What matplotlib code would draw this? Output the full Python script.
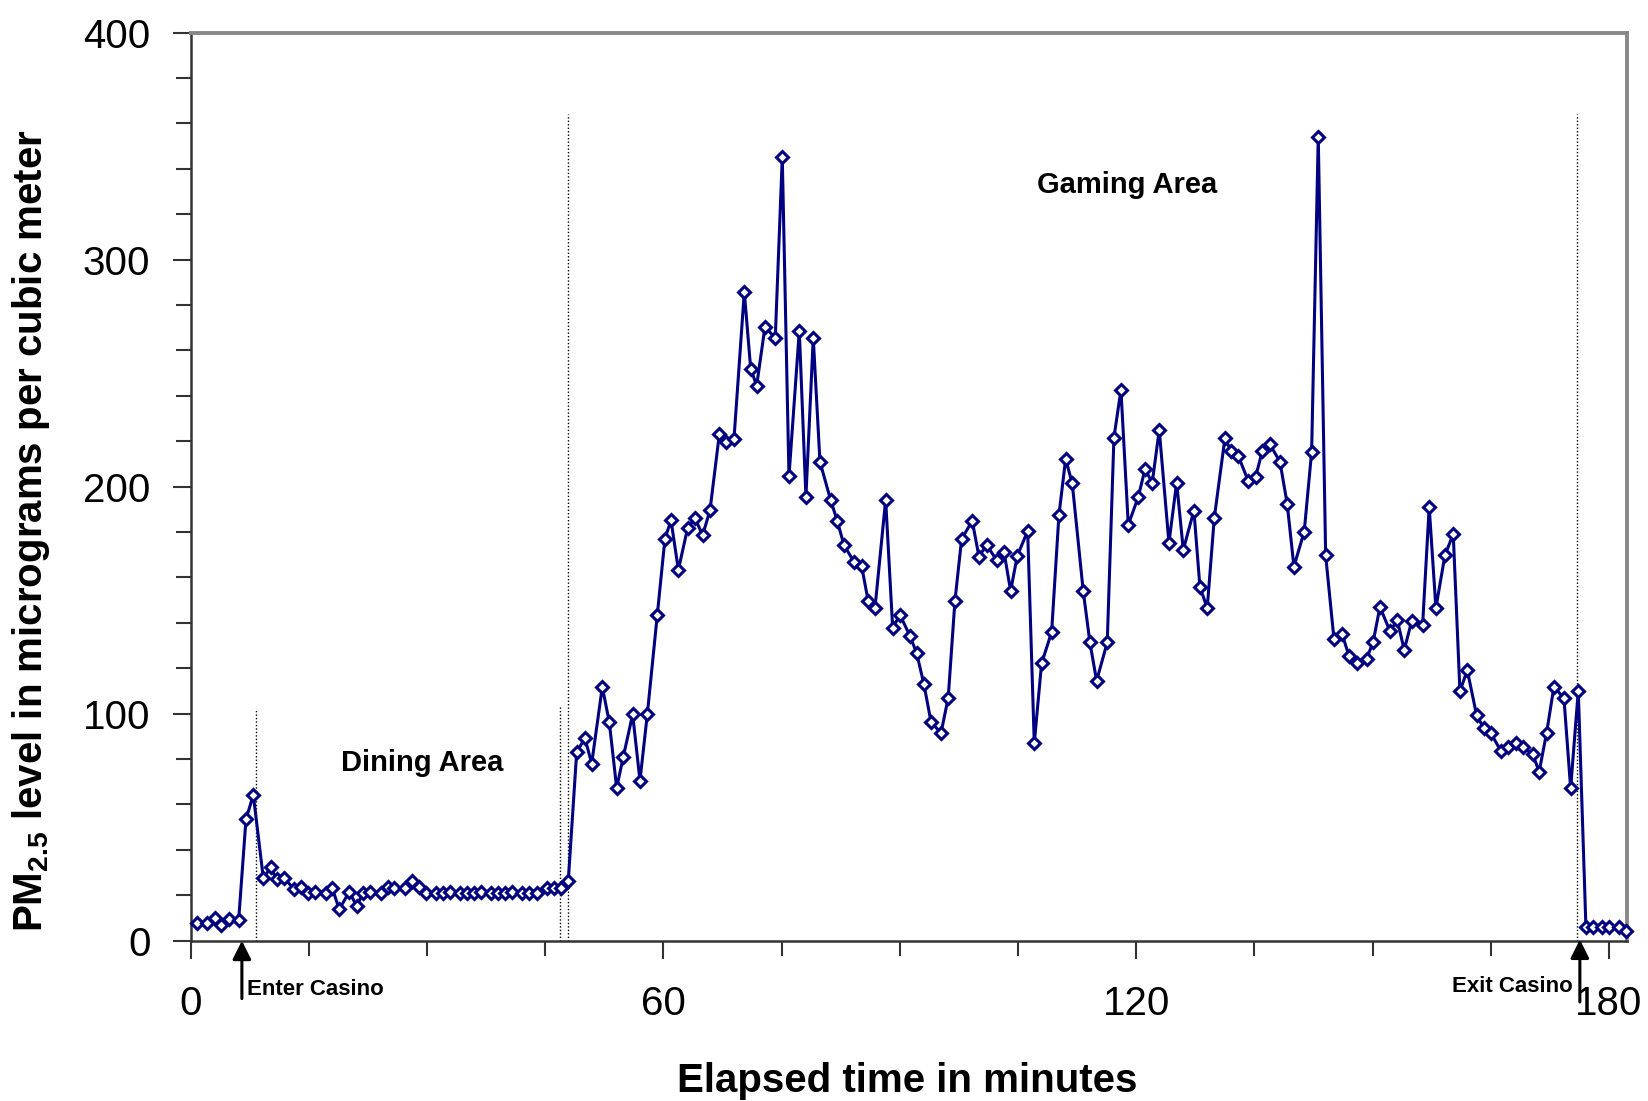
import matplotlib
matplotlib.use("Agg")
import matplotlib.pyplot as plt
import numpy as np

plt.rcParams['font.family'] = ['Liberation Sans', 'DejaVu Sans']
plt.rcParams['mathtext.fontset'] = 'custom'
plt.rcParams['mathtext.rm'] = 'Liberation Sans:bold'
plt.rcParams['mathtext.bf'] = 'Liberation Sans:bold'

# sample times (minutes) and PM2.5 readings (ug/m3)
minutes = [0.84, 2.11, 3.08, 3.89, 4.82, 6.09, 7.02, 7.95, 9.22, 10.15,
           10.91, 11.88, 13.11, 13.95, 14.89, 15.73, 17.13, 17.97, 18.86, 20.13,
           21.06, 21.91, 22.75, 24.11, 25.00, 25.84, 27.20, 28.08, 28.93, 29.86,
           31.13, 32.06, 32.91, 34.18, 35.02, 35.95, 36.84, 38.07, 39.04, 39.89,
           40.82, 42.09, 42.93, 43.90, 45.17, 46.10, 46.99, 47.92,
           48.99, 50.04, 50.89, 52.24, 53.13, 54.06, 54.91, 56.09, 57.02, 57.95,
           59.22, 60.19, 60.96, 61.89, 63.07, 64.00, 64.97, 65.91, 67.09, 67.94,
           68.95, 70.26, 71.07, 71.83, 72.88, 74.19, 75.08, 75.93, 77.24, 78.08,
           79.01, 79.86, 81.21, 82.06, 82.91, 84.18, 85.15, 85.99, 86.84, 88.20,
           89.09, 90.01, 91.28, 92.13, 93.06, 93.95, 95.22, 96.14, 96.99, 97.84,
           99.19, 100.04, 101.01, 102.28, 103.21, 104.06, 104.90, 106.22, 107.06, 107.99,
           109.26, 110.19, 111.04, 111.88, 113.27, 114.12, 114.97, 116.32, 117.17, 118.06,
           118.99, 120.26, 121.11, 122.03, 122.92, 124.15, 125.13, 125.97, 127.32, 128.08,
           129.01, 129.90, 131.26, 132.02, 132.94, 134.21, 135.15, 135.99, 136.97, 138.24,
           139.16, 140.01, 141.32, 142.26, 143.10, 144.04, 145.09, 146.15, 146.99, 147.97,
           149.24, 150.08, 150.93, 152.20, 153.13, 154.01, 154.95, 156.34, 157.18, 158.03,
           159.17, 160.23, 161.08, 162.01, 163.20, 164.13, 165.02, 166.28, 167.21, 168.15,
           169.04, 170.30, 171.14, 172.08, 173.01, 174.28, 175.13, 176.10, 177.07, 178.00,
           179.06, 180.03, 181.30, 182.20]

pm25 = [7.6, 7.6, 9.9, 6.9, 9.4, 9.1, 53.5, 64.2, 27.5, 32.3,
        27.0, 27.5, 22.8, 23.5, 21.1, 21.6, 21.1, 23.1, 13.8, 21.6,
        15.3, 21.1, 21.6, 21.1, 23.5, 23.1, 23.1, 26.4, 23.5, 21.1,
        21.1, 21.1, 21.6, 21.1, 21.1, 21.1, 21.6, 21.1, 21.1, 21.1,
        21.6, 21.1, 21.1, 21.1, 23.1, 23.1, 23.1, 26.3,
        83.1, 89.2, 78.0, 111.8, 96.2, 67.3, 81.1, 99.7, 70.5, 99.7,
        143.4, 177.1, 185.2, 163.4, 181.8, 186.2, 178.6, 189.7, 223.1, 219.6,
        221.0, 285.8, 252.0, 244.5, 270.4, 265.5, 345.1, 204.6, 268.7, 195.5,
        265.6, 211.0, 194.2, 184.9, 174.3, 166.9, 165.0, 149.5, 146.4, 194.2,
        137.7, 143.6, 134.3, 126.7, 112.9, 96.5, 91.4, 107.1, 149.6, 177.0,
        184.9, 169.2, 174.3, 167.7, 171.4, 154.1, 169.5, 180.5, 87.0, 122.2,
        135.9, 187.5, 212.2, 201.5, 154.1, 131.4, 114.5, 131.4, 221.6, 242.7,
        183.2, 195.5, 207.7, 201.8, 225.0, 175.3, 201.8, 172.2, 189.5, 155.9,
        146.5, 186.1, 221.5, 215.8, 213.6, 202.6, 204.3, 215.6, 218.6, 211.0,
        192.4, 164.8, 180.2, 215.4, 354.2, 169.7, 133.0, 134.9, 125.5, 122.2,
        124.1, 131.8, 147.1, 136.3, 141.2, 128.1, 140.7, 138.9, 191.0, 146.6,
        169.7, 179.2, 109.8, 119.2, 99.3, 93.5, 91.3, 83.6, 85.5, 87.2,
        85.5, 82.2, 74.5, 91.6, 111.9, 106.8, 67.1, 110.1, 5.9, 5.9,
        5.9, 5.9, 5.9, 4.4]

# location markers: (minute, top of dotted line)
dividers = [(8.29, 102), (46.83, 103), (47.92, 364), (175.97, 364)]
enter_t = 6.5
exit_t = 176.3

fig = plt.figure(figsize=(16.48, 11.01), dpi=100)
ax = fig.add_axes([0.1157, 0.1456, 0.8714, 0.8247])

navy = '#000080'
ax.plot(minutes, pm25, '-', color=navy, lw=2.2, marker='D', markersize=6.5,
        markerfacecolor='white', markeredgecolor=navy, markeredgewidth=2.2,
        clip_on=False, zorder=3)

for xv, top in dividers:
    ax.plot([xv, xv], [0, top], color='black', lw=1.0, linestyle=(0, (1, 1.5)),
            zorder=2)

ax.set_xlim(0, 182.25)
ax.set_ylim(0, 400)
ax.set_xticks([0, 60, 120, 180])
ax.set_xticks(np.arange(0, 181, 15), minor=True)
ax.set_yticks([0, 100, 200, 300, 400])
ax.set_yticks(np.arange(0, 401, 20), minor=True)

ax.tick_params(axis='both', which='both', direction='out', width=1.5,
               colors='#333333', labelcolor='black')
ax.tick_params(axis='both', which='major', length=13, labelsize=29)
ax.tick_params(axis='both', which='minor', length=11)
ax.tick_params(axis='x', which='major', pad=19)
ax.tick_params(axis='y', which='major', pad=16)

for side in ['left', 'bottom']:
    ax.spines[side].set_color('#333333')
    ax.spines[side].set_linewidth(1.8)
for side in ['top', 'right']:
    ax.spines[side].set_color('#888888')
    ax.spines[side].set_linewidth(2.8)

ax.set_xlabel('Elapsed time in minutes', fontsize=29, fontweight='bold')
ax.xaxis.label.set_va('center')
ax.xaxis.set_label_coords(0.499, -0.155)
ax.set_ylabel(r'PM$_{2.5}$ level in micrograms per cubic meter', fontsize=29,
              fontweight='bold')
ax.yaxis.label.set_va('center')
ax.yaxis.set_label_coords(-0.111, 0.452)

ax.text(29.4, 78.3, 'Dining Area', fontsize=21, fontweight='bold',
        ha='center', va='center')
ax.text(118.9, 333, 'Gaming Area', fontsize=21, fontweight='bold',
        ha='center', va='center')

# entry / exit arrows below the time axis
arrow = dict(arrowstyle='-|>', color='black', lw=2.2, mutation_scale=28,
             shrinkA=0, shrinkB=0)
ax.annotate('', xy=(enter_t, 0), xytext=(enter_t, -25.5), arrowprops=arrow,
            annotation_clip=False)
ax.annotate('', xy=(exit_t, 0.5), xytext=(exit_t, -27), arrowprops=arrow,
            annotation_clip=False)
ax.text(7.1, -21.7, 'Enter Casino', fontsize=16, fontweight='bold',
        ha='left', va='center', clip_on=False)
ax.text(175.4, -20.2, 'Exit Casino', fontsize=16, fontweight='bold',
        ha='right', va='center', clip_on=False)

fig.savefig('out.png', dpi=100)
